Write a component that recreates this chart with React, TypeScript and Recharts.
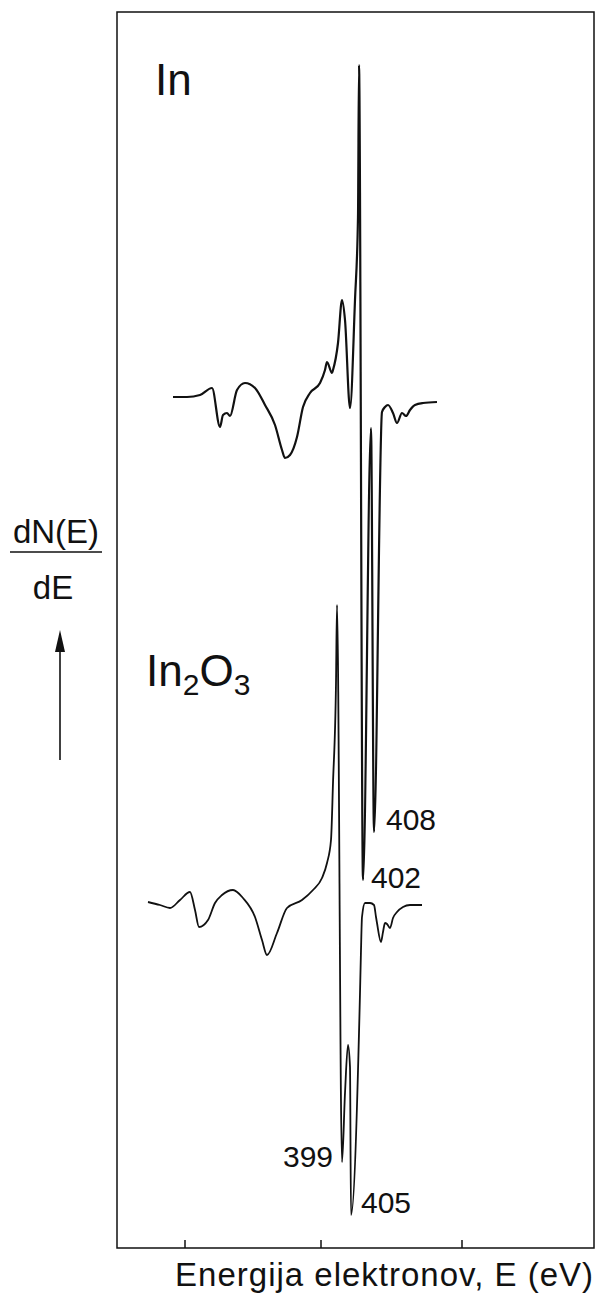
import React from 'react';
import { LineChart, Line, XAxis, YAxis, ReferenceArea, ReferenceLine } from 'recharts';

// In: energy channel (arb. units along E) and dN/dE (arb. units)
const inEnergy = [56, 70, 83, 95, 103, 106, 110, 113, 120, 128, 138, 148, 158, 165, 168, 173, 180, 186, 193, 203, 208, 210, 215, 216, 221, 225, 228, 233, 238, 241, 242, 246, 254, 257, 265, 268, 271, 276, 280, 285, 289, 293, 298, 306, 320];
const inSignal = [851, 851, 853, 860, 821, 833, 835, 832, 858, 865, 860, 843, 823, 798, 790, 793, 811, 841, 855, 865, 878, 886, 875, 878, 905, 948, 928, 840, 948, 1031, 1183, 368, 820, 416, 836, 841, 843, 835, 825, 835, 832, 838, 843, 845, 846];

// In2O3
const oxEnergy = [31, 43, 53, 63, 73, 78, 82, 91, 98, 105, 116, 126, 138, 145, 150, 160, 170, 185, 196, 205, 210, 214, 216, 219, 220, 225, 228, 231, 233, 234, 243, 244, 245, 248, 253, 257, 259, 260, 264, 266, 268, 270, 273, 276, 280, 286, 293, 305];
const oxSignal = [346, 343, 340, 348, 356, 338, 321, 328, 345, 353, 358, 350, 331, 308, 293, 315, 340, 348, 358, 370, 385, 408, 465, 565, 643, 86, 155, 203, 181, 33, 255, 298, 331, 345, 345, 343, 331, 325, 306, 316, 325, 324, 320, 330, 336, 341, 343, 343];

const energyTicks = [68, 204, 345];
const xDomain = [0, 477];
const yDomain = [0, 1236];
const tickLength = 8;

const inData = inEnergy.map((x, i) => ({ x, y: inSignal[i] }));
const oxData = oxEnergy.map((x, i) => ({ x, y: oxSignal[i] }));

const font = '"Liberation Sans", Arial, sans-serif';

export default function App() {
  return (
    <div style={{ position: 'absolute', left: 0, top: 0, width: 596, height: 1303, background: '#fff' }}>
      <LineChart width={596} height={1303} margin={{ top: 12, right: 2, left: 117, bottom: 55 }}>
        <XAxis
          type="number"
          dataKey="x"
          domain={xDomain}
          ticks={energyTicks}
          tick={false}
          tickLine={false}
          axisLine={false}
          height={0}
          allowDataOverflow
        />
        <YAxis type="number" dataKey="y" domain={yDomain} hide allowDataOverflow />
        <ReferenceArea x1={0} x2={477} y1={0} y2={1236} fill="none" stroke="#111" strokeWidth={1.5} />
        {energyTicks.map((t) => (
          <ReferenceLine key={t} segment={[{ x: t, y: 0 }, { x: t, y: tickLength }]} stroke="#111" strokeWidth={1.5} />
        ))}
        <Line data={inData} dataKey="y" type="monotone" stroke="#111" strokeWidth={2.2} dot={false} isAnimationActive={false} />
        <Line data={oxData} dataKey="y" type="monotone" stroke="#111" strokeWidth={1.8} dot={false} isAnimationActive={false} />
      </LineChart>
      <svg width={596} height={1303} style={{ position: 'absolute', left: 0, top: 0, pointerEvents: 'none' }}>
        <g fontFamily={font} fill="#111">
          <text x={155} y={95} fontSize={44}>In</text>
          <text x={146} y={686} fontSize={44}>
            In<tspan fontSize={30} dy={9}>2</tspan><tspan fontSize={44} dy={-9}>O</tspan><tspan fontSize={30} dy={9}>3</tspan>
          </text>
          <text x={386} y={830} fontSize={30}>408</text>
          <text x={371} y={888} fontSize={30}>402</text>
          <text x={283} y={1167} fontSize={30}>399</text>
          <text x={361} y={1213} fontSize={30}>405</text>
          <text x={594} y={1286} fontSize={33} letterSpacing={1} textAnchor="end">Energija elektronov, E (eV)</text>
          <text x={56} y={543} fontSize={33} textAnchor="middle">dN(E)</text>
          <text x={53} y={599} fontSize={33} textAnchor="middle">dE</text>
        </g>
        <line x1={10} x2={102} y1={552} y2={552} stroke="#111" strokeWidth={1.6} />
        <line x1={60} x2={60} y1={760} y2={645} stroke="#111" strokeWidth={1.6} />
        <polygon points="60,630 55,652 65,652" fill="#111" />
      </svg>
    </div>
  );
}
